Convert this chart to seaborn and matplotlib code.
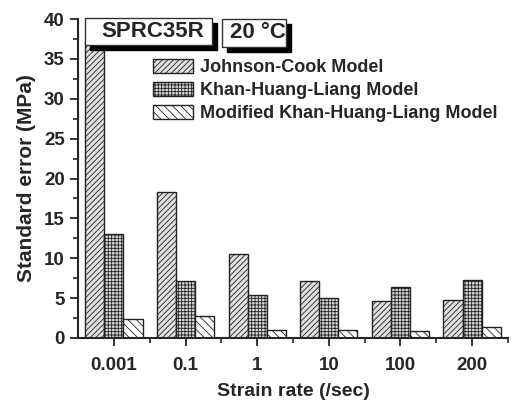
import numpy as np
import pandas as pd
import matplotlib
matplotlib.use('Agg')
import matplotlib.pyplot as plt
from matplotlib.patches import Rectangle, Patch
from matplotlib.ticker import MultipleLocator
import seaborn as sns

# data
rates = ['0.001', '0.1', '1', '10', '100', '200']
models = ['Johnson-Cook Model', 'Khan-Huang-Liang Model', 'Modified Khan-Huang-Liang Model']
jc = [37.2, 18.3, 10.5, 7.2, 4.7, 4.8]
khl = [13.0, 7.2, 5.4, 5.0, 6.4, 7.3]
mkhl = [2.4, 2.8, 1.0, 1.0, 0.9, 1.4]

df = pd.DataFrame({
    'rate': rates * 3,
    'err': jc + khl + mkhl,
    'model': [m for m in models for _ in rates],
})

sns.set_style('ticks')
plt.rcParams['font.family'] = ['Liberation Sans', 'DejaVu Sans']
plt.rcParams['font.weight'] = 'bold'
plt.rcParams['hatch.linewidth'] = 0.6

W, H = 515, 404
fig = plt.figure(figsize=(W / 100, H / 100), dpi=100)
ax = fig.add_axes([78 / W, 1 - 338 / H, 430 / W, 319 / H])

sns.barplot(data=df, x='rate', y='err', hue='model', hue_order=models,
            order=rates, width=0.8, palette=['white'] * 3, ax=ax,
            legend=False, errorbar=None, edgecolor='#222222', linewidth=1.0)

hatches = ['//////', '+++++', '\\\\\\\\']
fills = ['#e0e0e0', '#d6d6d6', 'white']
for cont, h, fc in zip(ax.containers, hatches, fills):
    for bar in cont:
        bar.set_hatch(h)
        bar.set_facecolor(fc)

ax.set_xlim(-0.5, 5.39)
ax.set_ylim(0, 40)
ax.yaxis.set_major_locator(MultipleLocator(5))
ax.yaxis.set_minor_locator(MultipleLocator(2.5))
ax.set_xticks(np.arange(len(rates)))
ax.set_xticks(np.arange(len(rates)) + 0.5, minor=True)
ax.tick_params(axis='both', which='major', length=6, width=1.3, labelsize=13.5, direction='out')
ax.tick_params(axis='both', which='minor', length=3.5, width=1.2, direction='out')
ax.tick_params(axis='x', pad=8)
for lab in ax.get_xticklabels() + ax.get_yticklabels():
    lab.set_fontweight('bold')

for s in ['top', 'right']:
    ax.spines[s].set_visible(False)
for s in ['left', 'bottom']:
    ax.spines[s].set_linewidth(1.5)

ax.set_xlabel('Strain rate (/sec)', fontsize=14, fontweight='bold', labelpad=6)
ax.set_ylabel('Standard error (MPa)', fontsize=15, fontweight='bold', labelpad=6)

# legend
handles = [Patch(facecolor=fc, edgecolor='#222222', hatch=h, linewidth=1.0)
           for h, fc in zip(hatches, fills)]
fig.legend(handles, models, loc='upper left', bbox_to_anchor=(153 / W, 1 - 59 / H),
           frameon=False, handlelength=2.2, handleheight=0.85,
           handletextpad=0.4, labelspacing=0.3, borderpad=0, borderaxespad=0,
           prop={'weight': 'bold', 'size': 13})

# label boxes with drop shadow
def label_box(x0, y0, x1, y1, text):
    fig.patches.append(Rectangle(((x0 + 5) / W, 1 - (y1 + 5) / H), (x1 - x0) / W, (y1 - y0) / H,
                                 transform=fig.transFigure, facecolor='black', edgecolor='black', zorder=5))
    fig.patches.append(Rectangle((x0 / W, 1 - y1 / H), (x1 - x0) / W, (y1 - y0) / H,
                                 transform=fig.transFigure, facecolor='white', edgecolor='#333333',
                                 linewidth=1.0, zorder=6))
    fig.text((x0 + x1) / 2 / W + 4 / W, 1 - (y0 + y1) / 2 / H, text, ha='center', va='center',
             fontsize=16, fontweight='bold', zorder=7)

label_box(85, 18, 212, 45, 'SPRC35R')
label_box(222, 19, 286, 47, '20 °C')

fig.savefig('out.png', dpi=100)
